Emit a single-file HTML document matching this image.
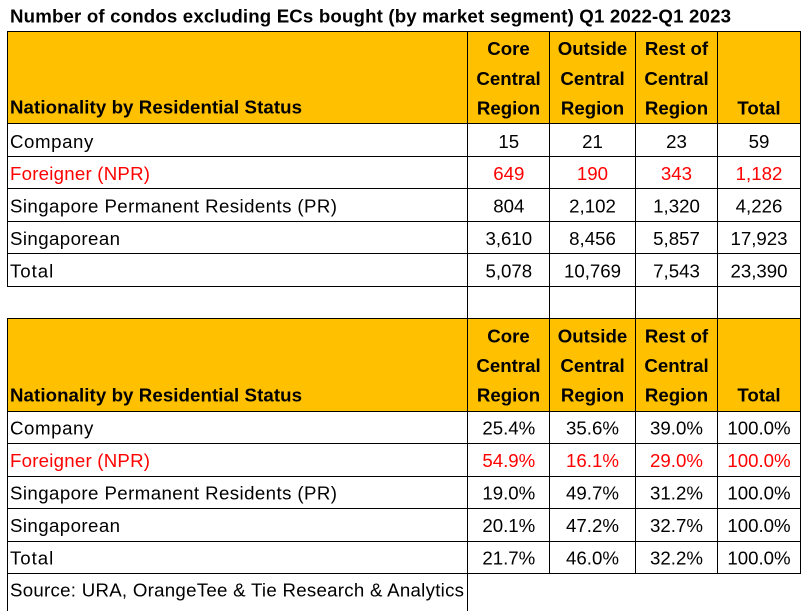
<!DOCTYPE html>
<html>
<head>
<meta charset="utf-8">
<style>
  html, body { margin: 0; padding: 0; background: #ffffff; }
  body { width: 809px; height: 611px; overflow: hidden; }
  svg { display: block; }
  text { font-family: "Liberation Sans", Arial, sans-serif; font-size: 18.67px; fill: #000; }
  .b { font-weight: bold; }
  .c { text-anchor: middle; }
  .r { fill: #ff0000; }
</style>
</head>
<body>
<svg width="809" height="611" viewBox="0 0 809 611" xmlns="http://www.w3.org/2000/svg">
  <rect x="0" y="0" width="809" height="611" fill="#ffffff"/>

  <!-- Title -->
  <text class="b" x="10" y="22.5" textLength="721" lengthAdjust="spacing">Number of condos excluding ECs bought (by market segment) Q1 2022-Q1 2023</text>

  <!-- Header fills -->
  <rect x="7" y="31" width="794" height="92" fill="#FFC000"/>
  <rect x="7" y="318" width="794" height="93" fill="#FFC000"/>

  <!-- Horizontal lines -->
  <g fill="#000">
    <rect x="7" y="31" width="794" height="1"/>
    <rect x="7" y="123" width="794" height="1"/>
    <rect x="7" y="156" width="794" height="1"/>
    <rect x="7" y="188" width="794" height="1"/>
    <rect x="7" y="221" width="794" height="1"/>
    <rect x="7" y="253" width="794" height="1"/>
    <rect x="7" y="286" width="794" height="1"/>
    <rect x="7" y="318" width="794" height="1"/>
    <rect x="7" y="411" width="794" height="1"/>
    <rect x="7" y="443" width="794" height="1"/>
    <rect x="7" y="476" width="794" height="1"/>
    <rect x="7" y="508" width="794" height="1"/>
    <rect x="7" y="541" width="794" height="1"/>
    <rect x="7" y="573" width="794" height="1"/>

    <!-- Vertical lines -->
    <rect x="7" y="31" width="1" height="256"/>
    <rect x="7" y="318" width="1" height="293"/>
    <rect x="467" y="31" width="1" height="580"/>
    <rect x="549" y="31" width="1" height="543"/>
    <rect x="635" y="31" width="1" height="543"/>
    <rect x="717" y="31" width="1" height="543"/>
    <rect x="800" y="31" width="1" height="543"/>
  </g>

  <!-- Table 1 header -->
  <text class="b" x="10" y="113.5" textLength="292" lengthAdjust="spacing">Nationality by Residential Status</text>
  <text class="b c" x="508.5" y="55">Core</text>
  <text class="b c" x="508.5" y="85">Central</text>
  <text class="b c" x="508.5" y="114.5">Region</text>
  <text class="b c" x="592.5" y="55">Outside</text>
  <text class="b c" x="592.5" y="85">Central</text>
  <text class="b c" x="592.5" y="114.5">Region</text>
  <text class="b c" x="676.5" y="55">Rest of</text>
  <text class="b c" x="676.5" y="85">Central</text>
  <text class="b c" x="676.5" y="114.5">Region</text>
  <text class="b c" x="759" y="114.5">Total</text>

  <!-- Table 1 body -->
  <text x="10" y="147.8" textLength="83.3" lengthAdjust="spacing">Company</text>
  <text class="c" x="508.8" y="147.8">15</text>
  <text class="c" x="592.5" y="147.8">21</text>
  <text class="c" x="676.5" y="147.8">23</text>
  <text class="c" x="759" y="147.8">59</text>

  <text class="r" x="10" y="180.2" textLength="140" lengthAdjust="spacing">Foreigner (NPR)</text>
  <text class="c r" x="508.8" y="180.2">649</text>
  <text class="c r" x="592.5" y="180.2">190</text>
  <text class="c r" x="676.5" y="180.2">343</text>
  <text class="c r" x="759" y="180.2">1,182</text>

  <text x="10" y="212.7" textLength="327" lengthAdjust="spacing">Singapore Permanent Residents (PR)</text>
  <text class="c" x="508.8" y="212.7">804</text>
  <text class="c" x="592.5" y="212.7">2,102</text>
  <text class="c" x="676.5" y="212.7">1,320</text>
  <text class="c" x="759" y="212.7">4,226</text>

  <text x="10" y="245.2" textLength="110" lengthAdjust="spacing">Singaporean</text>
  <text class="c" x="508.8" y="245.2">3,610</text>
  <text class="c" x="592.5" y="245.2">8,456</text>
  <text class="c" x="676.5" y="245.2">5,857</text>
  <text class="c" x="759" y="245.2">17,923</text>

  <text x="10" y="277.7" textLength="43.3" lengthAdjust="spacing">Total</text>
  <text class="c" x="508.8" y="277.7">5,078</text>
  <text class="c" x="592.5" y="277.7">10,769</text>
  <text class="c" x="676.5" y="277.7">7,543</text>
  <text class="c" x="759" y="277.7">23,390</text>

  <!-- Table 2 header -->
  <text class="b" x="10" y="401.5" textLength="292" lengthAdjust="spacing">Nationality by Residential Status</text>
  <text class="b c" x="508.5" y="342.5">Core</text>
  <text class="b c" x="508.5" y="372">Central</text>
  <text class="b c" x="508.5" y="401.7">Region</text>
  <text class="b c" x="592.5" y="342.5">Outside</text>
  <text class="b c" x="592.5" y="372">Central</text>
  <text class="b c" x="592.5" y="401.7">Region</text>
  <text class="b c" x="676.5" y="342.5">Rest of</text>
  <text class="b c" x="676.5" y="372">Central</text>
  <text class="b c" x="676.5" y="401.7">Region</text>
  <text class="b c" x="759" y="401.7">Total</text>

  <!-- Table 2 body -->
  <text x="10" y="434.6" textLength="83.3" lengthAdjust="spacing">Company</text>
  <text class="c" x="508.8" y="434.6">25.4%</text>
  <text class="c" x="592.5" y="434.6">35.6%</text>
  <text class="c" x="676.5" y="434.6">39.0%</text>
  <text class="c" x="759" y="434.6">100.0%</text>

  <text class="r" x="10" y="467.2" textLength="140" lengthAdjust="spacing">Foreigner (NPR)</text>
  <text class="c r" x="508.8" y="467.2">54.9%</text>
  <text class="c r" x="592.5" y="467.2">16.1%</text>
  <text class="c r" x="676.5" y="467.2">29.0%</text>
  <text class="c r" x="759" y="467.2">100.0%</text>

  <text x="10" y="499.6" textLength="327" lengthAdjust="spacing">Singapore Permanent Residents (PR)</text>
  <text class="c" x="508.8" y="499.6">19.0%</text>
  <text class="c" x="592.5" y="499.6">49.7%</text>
  <text class="c" x="676.5" y="499.6">31.2%</text>
  <text class="c" x="759" y="499.6">100.0%</text>

  <text x="10" y="532.1" textLength="110" lengthAdjust="spacing">Singaporean</text>
  <text class="c" x="508.8" y="532.1">20.1%</text>
  <text class="c" x="592.5" y="532.1">47.2%</text>
  <text class="c" x="676.5" y="532.1">32.7%</text>
  <text class="c" x="759" y="532.1">100.0%</text>

  <text x="10" y="564.6" textLength="43.3" lengthAdjust="spacing">Total</text>
  <text class="c" x="508.8" y="564.6">21.7%</text>
  <text class="c" x="592.5" y="564.6">46.0%</text>
  <text class="c" x="676.5" y="564.6">32.2%</text>
  <text class="c" x="759" y="564.6">100.0%</text>

  <!-- Source -->
  <text x="10" y="596.7" textLength="454" lengthAdjust="spacing">Source: URA, OrangeTee &amp; Tie Research &amp; Analytics</text>
</svg>
</body>
</html>
